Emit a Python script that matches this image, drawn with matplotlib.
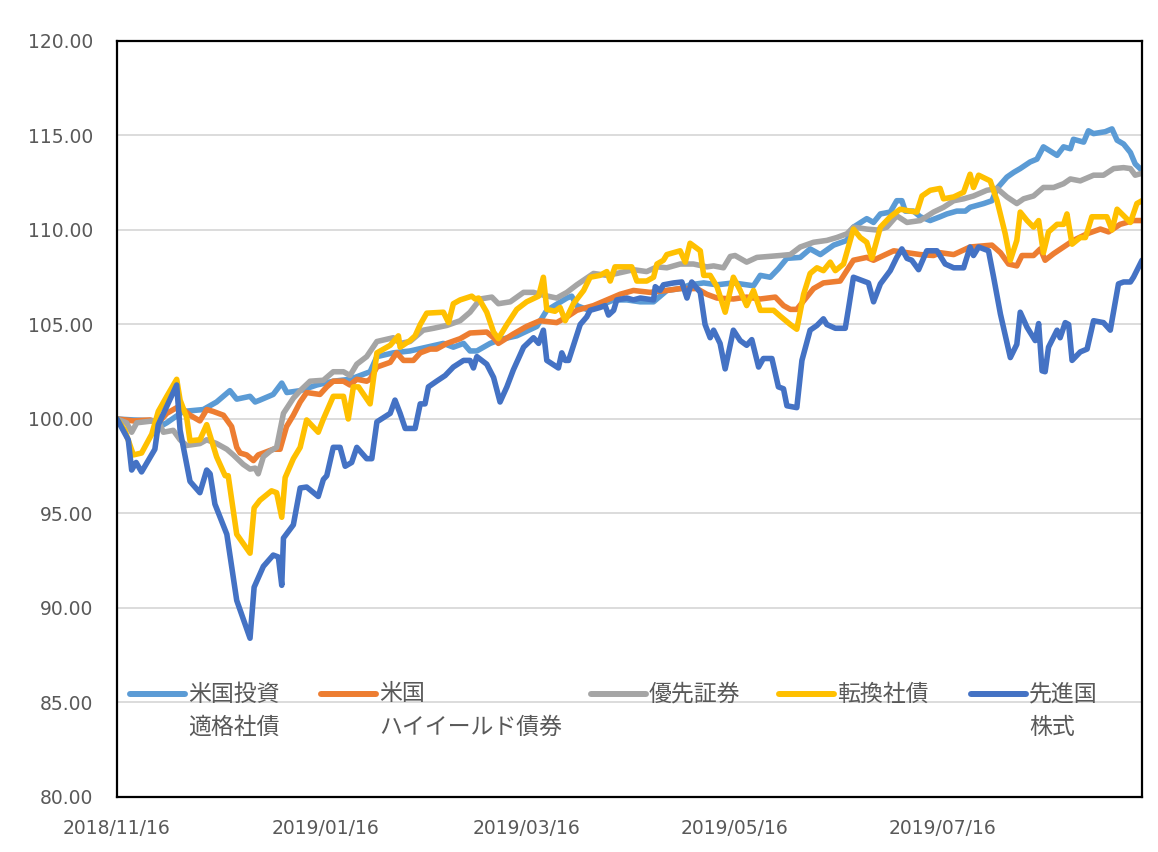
import matplotlib
matplotlib.use("Agg")
import matplotlib.pyplot as plt
import matplotlib.dates as mdates
from matplotlib.lines import Line2D
import pandas as pd

# ---------------- data ----------------
start_date = "2018-11-16"          # all series indexed to 100 on this date
tick_dates = ["2018-11-16", "2019-01-16", "2019-03-16", "2019-05-16", "2019-07-16"]
tick_labels = ["2018/11/16", "2019/01/16", "2019/03/16", "2019/05/16", "2019/07/16"]
y_ticks = [80, 85, 90, 95, 100, 105, 110, 115, 120]

# elapsed calendar days since start_date, and index values
ig_days = [0, 4.8, 12.1, 13.6, 14.6, 19.4, 25.3, 29.2, 33.1, 35.1, 39.0, 40.5, 41.9, 45.8, 48.3,
           49.8, 53.7, 58.6, 63.4, 68.3, 74.2, 76.2, 81.0, 85.9, 90.8, 95.7, 98.6, 101.6, 103.5, 105.5,
           109.4, 112.3, 117.2, 123.1, 126.0, 131.9, 133.3, 134.8, 137.7, 141.6, 145.6, 149.5, 153.4, 157.3, 161.2,
           165.1, 168.0, 172.0, 175.9, 180.7, 186.6, 188.6, 191.5, 193.9, 196.4, 200.3, 203.2, 206.2, 210.1, 214.0,
           215.9, 219.8, 221.8, 223.8, 226.7, 228.6, 230.1, 231.1, 233.5, 235.5, 238.4, 241.3, 243.3, 246.2, 248.7,
           250.1, 254.1, 256.5, 258.0, 260.9, 262.9, 264.8, 267.7, 269.7, 271.6, 275.6, 277.5, 279.5, 280.4, 283.4,
           284.8, 286.3, 289.7, 291.7, 293.2, 295.1, 297.1, 298.5, 300.5]
ig_vals = [100.0, 99.95, 99.9, 99.7, 99.8, 100.4, 100.5, 100.9, 101.5, 101.05, 101.2, 100.9, 101.0, 101.3, 101.9,
           101.4, 101.5, 101.8, 102.0, 102.1, 102.5, 103.3, 103.5, 103.6, 103.8, 104.0, 103.8, 104.0, 103.6, 103.6,
           104.0, 104.2, 104.4, 104.9, 105.75, 106.4, 106.5, 106.0, 105.8, 106.0, 106.3, 106.3, 106.2, 106.2, 106.8,
           106.9, 107.1, 107.2, 107.1, 107.2, 107.05, 107.6, 107.5, 107.95, 108.5, 108.55, 109.0, 108.7, 109.2, 109.45,
           110.15, 110.6, 110.4, 110.85, 110.95, 111.55, 111.55, 111.0, 111.0, 110.7, 110.5, 110.7, 110.85, 111.0, 111.0,
           111.2, 111.4, 111.55, 112.2, 112.8, 113.05, 113.25, 113.6, 113.75, 114.4, 113.95, 114.4, 114.3, 114.8, 114.65,
           115.25, 115.1, 115.2, 115.35, 114.75, 114.55, 114.1, 113.5, 113.15]

hy_days = [0, 4.8, 9.7, 12.1, 14.6, 17.5, 19.4, 21.4, 24.3, 26.3, 28.2, 31.2, 33.6, 35.1, 36.1,
           38.0, 40.0, 41.4, 42.9, 45.8, 47.8, 49.7, 51.7, 53.7, 55.6, 59.5, 61.5, 63.4, 66.4, 68.3,
           70.3, 73.2, 74.2, 76.2, 80.1, 82.0, 84.0, 86.9, 88.9, 91.8, 93.7, 96.7, 100.6, 103.5, 108.4,
           110.4, 111.8, 116.2, 120.1, 124.0, 128.9, 131.9, 134.8, 139.7, 143.6, 147.5, 151.4, 156.3, 161.2, 165.1,
           170.0, 172.9, 175.9, 180.7, 184.6, 188.6, 193.0, 195.4, 197.4, 199.3, 201.3, 204.2, 207.1, 212.0, 215.9,
           219.8, 221.8, 224.7, 227.7, 231.6, 235.5, 239.4, 241.3, 245.3, 250.1, 256.5, 259.0, 261.4, 263.8, 265.3,
           268.7, 270.7, 272.1, 274.6, 277.5, 280.4, 284.4, 288.3, 290.7, 294.1, 298.0, 300.5]
hy_vals = [100.0, 99.9, 99.95, 99.8, 100.3, 100.6, 100.5, 100.2, 99.9, 100.5, 100.4, 100.2, 99.6, 98.5, 98.2,
           98.1, 97.8, 98.1, 98.2, 98.4, 98.4, 99.6, 100.2, 100.9, 101.4, 101.3, 101.7, 102.0, 102.0, 101.8,
           102.1, 102.0, 102.1, 102.75, 103.0, 103.5, 103.1, 103.1, 103.5, 103.7, 103.7, 104.0, 104.25, 104.55, 104.6,
           104.3, 104.0, 104.5, 104.9, 105.2, 105.1, 105.4, 105.75, 106.0, 106.3, 106.6, 106.8, 106.7, 106.8, 106.9,
           106.9, 106.6, 106.4, 106.35, 106.45, 106.35, 106.45, 106.0, 105.8, 105.8, 106.25, 106.9, 107.2, 107.3, 108.4,
           108.55, 108.4, 108.65, 108.9, 108.8, 108.7, 108.65, 108.8, 108.7, 109.1, 109.2, 108.8, 108.2, 108.1, 108.65,
           108.65, 109.0, 108.4, 108.75, 109.1, 109.45, 109.8, 110.05, 109.9, 110.3, 110.5, 110.5]

pref_days = [0, 2.8, 4.3, 5.8, 10.6, 12.1, 13.6, 16.5, 18.5, 20.4, 24.3, 26.3, 29.2, 32.2, 34.1,
             37.0, 39.0, 40.5, 41.4, 42.9, 44.9, 46.8, 48.8, 51.7, 53.7, 56.6, 60.5, 63.4, 66.4, 68.3,
             70.3, 73.2, 76.2, 81.0, 83.0, 85.9, 89.8, 92.8, 96.7, 100.6, 103.5, 106.5, 109.9, 111.8, 115.3,
             119.2, 122.1, 125.0, 128.9, 131.9, 134.8, 139.7, 143.6, 146.5, 151.4, 155.3, 158.3, 161.2, 165.1, 169.0,
             172.9, 174.9, 177.8, 179.8, 181.2, 184.6, 187.6, 194.4, 197.4, 200.3, 204.2, 208.1, 211.0, 214.0, 215.9,
             219.8, 222.8, 225.7, 228.6, 231.6, 235.5, 239.4, 242.3, 245.3, 248.2, 251.1, 255.0, 258.0, 260.9, 263.8,
             265.8, 268.7, 271.6, 274.6, 277.5, 279.5, 282.4, 286.3, 289.2, 292.2, 295.1, 297.1, 298.5, 300.5]
pref_vals = [100.0, 99.8, 99.3, 99.8, 99.9, 99.9, 99.3, 99.4, 98.9, 98.6, 98.7, 98.9, 98.7, 98.4, 98.1,
             97.6, 97.35, 97.4, 97.1, 98.0, 98.3, 98.5, 100.3, 101.1, 101.5, 102.0, 102.05, 102.5, 102.5, 102.3,
             102.9, 103.3, 104.1, 104.3, 104.0, 104.1, 104.7, 104.8, 104.95, 105.2, 105.65, 106.35, 106.45, 106.1, 106.2,
             106.7, 106.7, 106.55, 106.4, 106.7, 107.1, 107.7, 107.6, 107.7, 107.9, 107.8, 108.05, 108.0, 108.2, 108.2,
             108.05, 108.1, 108.0, 108.6, 108.65, 108.3, 108.55, 108.65, 108.7, 109.1, 109.35, 109.45, 109.6, 109.8, 110.15,
             110.05, 110.0, 110.15, 110.75, 110.4, 110.5, 110.95, 111.2, 111.55, 111.65, 111.8, 112.1, 112.2, 111.75, 111.4,
             111.65, 111.8, 112.25, 112.25, 112.45, 112.7, 112.6, 112.9, 112.9, 113.25, 113.3, 113.25, 112.9, 113.0]

cb_days = [0, 2.3, 4.8, 7.2, 10.2, 12.1, 14.6, 17.5, 18.5, 20.4, 21.4, 24.3, 26.3, 29.2, 31.7,
           32.6, 35.1, 39.0, 40.2, 41.9, 45.3, 46.8, 48.3, 49.3, 51.7, 53.7, 55.6, 59.0, 60.5, 63.4,
           66.4, 67.8, 69.3, 70.8, 74.2, 76.2, 80.1, 82.5, 83.0, 85.9, 87.4, 88.9, 90.8, 95.7, 97.2,
           98.6, 100.6, 104.0, 105.0, 106.0, 108.4, 110.4, 111.8, 114.3, 117.2, 120.1, 123.6, 125.0, 126.0, 128.4,
           129.9, 131.4, 133.8, 136.8, 138.7, 141.6, 143.6, 144.6, 146.0, 150.9, 152.4, 155.3, 157.3, 158.3, 160.2,
           161.2, 165.1, 166.6, 168.0, 171.0, 172.0, 173.9, 175.9, 178.3, 180.7, 182.7, 184.6, 186.6, 188.6, 192.5,
           194.4, 197.4, 199.3, 201.3, 203.2, 205.2, 207.1, 209.1, 210.6, 213.0, 215.9, 217.9, 219.8, 221.3, 223.8,
           226.7, 229.6, 232.5, 234.5, 236.0, 238.4, 241.3, 242.3, 245.3, 248.2, 250.1, 251.1, 252.6, 256.0, 258.0,
           260.4, 261.9, 263.8, 264.8, 266.8, 268.7, 270.2, 271.6, 273.1, 275.6, 277.5, 278.5, 280.0, 282.4, 283.9,
           285.8, 290.2, 291.7, 293.2, 297.1, 299.0, 300.5]
cb_vals = [100.0, 99.4, 98.1, 98.2, 99.2, 100.4, 101.2, 102.1, 101.0, 100.1, 98.85, 98.9, 99.7, 98.0, 97.0,
           97.0, 93.9, 92.9, 95.3, 95.7, 96.2, 96.1, 94.8, 96.9, 97.9, 98.5, 99.95, 99.3, 100.0, 101.2,
           101.2, 100.0, 101.7, 101.7, 100.8, 103.5, 103.9, 104.4, 103.8, 104.15, 104.4, 105.0, 105.6, 105.65, 105.1,
           106.1, 106.3, 106.5, 106.35, 106.4, 105.65, 104.6, 104.25, 105.0, 105.8, 106.2, 106.5, 107.5, 105.8, 105.7,
           105.9, 105.2, 106.1, 106.8, 107.5, 107.6, 107.8, 107.3, 108.05, 108.05, 107.3, 107.3, 107.5, 108.2, 108.4,
           108.7, 108.9, 108.3, 109.3, 108.9, 107.6, 107.6, 107.0, 105.65, 107.5, 106.8, 106.0, 106.8, 105.75, 105.75,
           105.45, 105.0, 104.75, 106.6, 107.7, 108.0, 107.85, 108.3, 107.85, 108.2, 110.05, 109.6, 109.35, 108.5, 110.15,
           110.7, 111.1, 111.0, 110.95, 111.8, 112.1, 112.2, 111.65, 111.75, 112.0, 112.95, 112.25, 112.9, 112.6, 111.55,
           109.8, 108.4, 109.45, 110.95, 110.5, 110.15, 110.5, 108.8, 109.9, 110.3, 110.3, 110.85, 109.25, 109.6, 109.6,
           110.7, 110.7, 110.0, 111.1, 110.4, 111.4, 111.55]

eq_days = [0, 3.3, 4.3, 5.6, 7.2, 11.1, 12.1, 17.5, 18.5, 21.4, 24.3, 26.3, 27.3, 28.7, 32.2,
           35.1, 39.0, 40.2, 42.9, 45.8, 47.3, 48.3, 48.8, 51.7, 53.7, 55.6, 59.0, 60.5, 61.5, 63.4,
           65.4, 66.9, 68.8, 70.3, 73.2, 74.7, 76.2, 80.1, 81.5, 83.0, 84.5, 87.4, 88.9, 90.3, 91.3,
           93.7, 96.2, 98.6, 101.6, 103.5, 104.5, 105.5, 108.4, 110.4, 112.3, 114.3, 116.2, 117.7, 119.2, 122.1,
           123.6, 125.0, 126.0, 129.4, 130.4, 131.4, 132.4, 135.8, 137.7, 138.7, 141.6, 143.1, 144.1, 145.6, 146.5,
           149.5, 151.4, 153.4, 157.3, 157.8, 159.2, 160.2, 163.2, 165.6, 167.1, 168.5, 171.0, 172.4, 173.9, 174.9,
           176.8, 178.3, 180.7, 182.7, 184.6, 186.1, 188.1, 189.5, 192.0, 193.9, 195.4, 196.4, 199.3, 200.8, 203.2,
           205.2, 207.1, 208.1, 210.6, 213.5, 214.5, 215.9, 220.3, 221.8, 223.8, 226.7, 228.6, 230.1, 231.6, 233.0,
           235.0, 237.4, 240.4, 242.8, 245.3, 248.2, 250.1, 251.1, 252.6, 255.5, 257.0, 259.0, 261.9, 263.8, 264.8,
           266.8, 269.2, 270.2, 271.2, 272.1, 273.1, 275.6, 276.5, 278.0, 279.0, 280.0, 282.4, 284.4, 286.3, 289.2,
           291.2, 293.6, 295.1, 297.1, 298.0, 300.5]
eq_vals = [100.0, 98.9, 97.3, 97.7, 97.2, 98.4, 99.7, 101.8, 99.4, 96.7, 96.1, 97.3, 97.1, 95.5, 93.9,
           90.4, 88.4, 91.1, 92.2, 92.8, 92.7, 91.2, 93.7, 94.4, 96.35, 96.4, 95.9, 96.8, 97.0, 98.5,
           98.5, 97.5, 97.7, 98.5, 97.9, 97.9, 99.85, 100.3, 101.0, 100.3, 99.5, 99.5, 100.8, 100.8, 101.7,
           102.0, 102.3, 102.75, 103.1, 103.1, 102.7, 103.3, 102.9, 102.2, 100.9, 101.7, 102.6, 103.2, 103.8, 104.3,
           104.0, 104.7, 103.1, 102.7, 103.5, 103.1, 103.1, 105.0, 105.4, 105.75, 105.9, 106.0, 105.5, 105.75, 106.3,
           106.4, 106.3, 106.4, 106.3, 107.0, 106.8, 107.1, 107.2, 107.25, 106.4, 107.25, 106.7, 105.0, 104.3, 104.7,
           104.0, 102.65, 104.7, 104.15, 103.9, 104.2, 102.75, 103.2, 103.2, 101.7, 101.6, 100.7, 100.6, 103.1, 104.7,
           104.95, 105.3, 105.0, 104.8, 104.8, 105.9, 107.5, 107.2, 106.2, 107.15, 107.85, 108.55, 109.0, 108.5, 108.4,
           107.9, 108.9, 108.9, 108.2, 108.0, 108.0, 109.1, 108.65, 109.1, 108.9, 107.5, 105.55, 103.25, 103.95, 105.65,
           104.85, 104.15, 105.05, 102.55, 102.5, 103.8, 104.7, 104.3, 105.1, 105.0, 103.1, 103.55, 103.7, 105.2, 105.1,
           104.7, 107.15, 107.25, 107.25, 107.5, 108.4]

series_labels = [("米国投資", "適格社債"), ("米国", "ハイイールド債券"), ("優先証券", ""),
                 ("転換社債", ""), ("先進国", "株式")]
series_colors = ["#5B9BD5", "#ED7D31", "#A5A5A5", "#FFC000", "#4472C4"]

# ---------------- plotting ----------------
text_color = "#595959"
cjk = ["Noto Sans CJK JP", "DejaVu Sans"]

fig = plt.figure(figsize=(11.58, 8.52), dpi=100)
ax = fig.add_axes([117 / 1158, 55 / 852, 1025 / 1158, 756 / 852])

t0 = pd.Timestamp(start_date)
def to_dates(days):
    return [t0 + pd.Timedelta(days=float(d)) for d in days]

all_series = [(ig_days, ig_vals), (hy_days, hy_vals), (pref_days, pref_vals),
              (cb_days, cb_vals), (eq_days, eq_vals)]
for (d, v), c, lab in zip(all_series, series_colors, series_labels):
    ax.plot(to_dates(d), v, color=c, lw=4.0, solid_joinstyle="round",
            solid_capstyle="round", label="".join(lab), zorder=3)

ax.set_ylim(80, 120)
ax.set_xlim(t0, t0 + pd.Timedelta(days=300.5))
ax.set_yticks(y_ticks)
ax.set_yticklabels([f"{v:.2f}" for v in y_ticks])
ax.set_xticks([pd.Timestamp(d) for d in tick_dates])
ax.set_xticklabels(tick_labels)
ax.tick_params(axis="both", length=0, labelsize=13.5, labelcolor=text_color)
ax.tick_params(axis="y", pad=17)
ax.tick_params(axis="x", pad=16)
for lbl in ax.get_xticklabels() + ax.get_yticklabels():
    lbl.set_family("DejaVu Sans")

ax.grid(axis="y", color="#D9D9D9", lw=1.3, zorder=1)
ax.set_axisbelow(True)
for s in ax.spines.values():
    s.set_color("black")
    s.set_linewidth(1.6)
    s.set_zorder(5)

# legend (Excel-like, inside the plot, label text wrapped onto two rows)
px_w, px_h = 1025.0, 756.0
handle_x = [130, 321, 591, 779, 971]
row1_y = (797 - 694) / px_h
row2_y = (797 - 727) / px_h
for hx, c, (l1, l2) in zip(handle_x, series_colors, series_labels):
    x0 = (hx - 117) / px_w
    x1 = (hx + 55 - 117) / px_w
    ax.add_line(Line2D([x0, x1], [row1_y, row1_y], transform=ax.transAxes, color=c,
                       lw=4.3, solid_capstyle="round", zorder=6))
    tx = (hx + 58 - 117) / px_w
    ax.text(tx, row1_y, l1, transform=ax.transAxes, ha="left", va="center",
            fontsize=16.5, color=text_color, family=cjk, zorder=6)
    if l2:
        ax.text(tx, row2_y, l2, transform=ax.transAxes, ha="left", va="center",
                fontsize=16.5, color=text_color, family=cjk, zorder=6)

fig.savefig("out.png", dpi=100, facecolor="white")
